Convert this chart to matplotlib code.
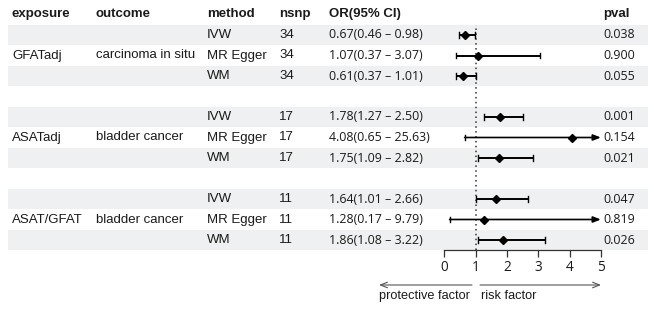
import matplotlib
matplotlib.use("Agg")
import matplotlib.pyplot as plt
import numpy as np

# ----------------------------- data -----------------------------
exposure = ["", "GFATadj", "", "", "", "ASATadj", "", "", "", "ASAT/GFAT", ""]
outcome = ["", "carcinoma in situ", "", "", "", "bladder cancer", "", "", "", "bladder cancer", ""]
method = ["IVW", "MR Egger", "WM", "", "IVW", "MR Egger", "WM", "", "IVW", "MR Egger", "WM"]
nsnp = ["34", "34", "34", "", "17", "17", "17", "", "11", "11", "11"]
or_est = [0.67, 1.07, 0.61, np.nan, 1.78, 4.08, 1.75, np.nan, 1.64, 1.28, 1.86]
or_low = [0.46, 0.37, 0.37, np.nan, 1.27, 0.65, 1.09, np.nan, 1.01, 0.17, 1.08]
or_high = [0.98, 3.07, 1.01, np.nan, 2.50, 25.63, 2.82, np.nan, 2.66, 9.79, 3.22]
pval = ["0.038", "0.900", "0.055", "", "0.001", "0.154", "0.021", "", "0.047", "0.819", "0.026"]
xticks = [0, 1, 2, 3, 4, 5]

# ----------------------------- layout -----------------------------
W, H = 654, 311
ROW0, ROWH = 35.0, 20.5          # pixel centre of first row, row height
XMIN, XMAX = 0, 5
PLOT_L, PLOT_R = 444.3, 600.8    # pixel span of the forest column
GREY = "#eff0f1"
TXT = "#1a1a1a"
TAB_FONT = "Liberation Sans"
NUM_FONT = "Open Sans"
FS = 9.5

n = len(method)


def row_of(py):
    return (py - ROW0) / ROWH


fig = plt.figure(figsize=(W / 100, H / 100), dpi=100)
ax = fig.add_axes([0, 0, 1, 1])
ax.set_xlim(0, W)
ax.set_ylim(row_of(H), row_of(0))
ax.axis("off")

# alternating row bands
for k in range(n):
    if k % 2 == 0:
        ax.axhspan(k - 0.5, k + 0.5, xmin=8 / W, xmax=648 / W, color=GREY, lw=0, zorder=0)

# header
hdr_y = row_of(14)
cols = [(12, "exposure"), (96, "outcome"), (207, "method"), (279, "nsnp"),
        (329, "OR(95% CI)"), (603, "pval")]
for x, lab in cols:
    ax.text(x, hdr_y, lab, ha="left", va="center", fontsize=FS,
            fontweight="bold", family=TAB_FONT, color=TXT)

for k in range(n):
    ax.text(12, k, exposure[k], ha="left", va="center", fontsize=FS, family=TAB_FONT, color=TXT)
    ax.text(96, k, outcome[k], ha="left", va="center", fontsize=FS, family=TAB_FONT, color=TXT)
    ax.text(207, k, method[k], ha="left", va="center", fontsize=FS, family=TAB_FONT, color=TXT)
    ax.text(279, k, nsnp[k], ha="left", va="center", fontsize=FS, family=TAB_FONT, color=TXT)
    if not np.isnan(or_est[k]):
        lab = f"{or_est[k]:.2f}({or_low[k]:.2f} \u2013 {or_high[k]:.2f})"
        ax.text(329, k, lab, ha="left", va="center", fontsize=FS - 0.6, family=NUM_FONT, color=TXT)
    ax.text(603, k, pval[k], ha="left", va="center", fontsize=FS - 0.6, family=NUM_FONT, color=TXT)

# ----------------------------- forest column -----------------------------
top_px = ROW0 - ROWH / 2
bot_px = ROW0 + (n - 0.5) * ROWH
fax = fig.add_axes([PLOT_L / W, 1 - bot_px / H, (PLOT_R - PLOT_L) / W, (bot_px - top_px) / H])
fax.set_xlim(XMIN, XMAX)
fax.set_ylim(n - 0.5, -0.5)
fax.patch.set_alpha(0)
for s in ("top", "left", "right"):
    fax.spines[s].set_visible(False)
fax.spines["bottom"].set_color("#333333")
fax.spines["bottom"].set_linewidth(0.9)
fax.set_yticks([])
fax.set_xticks(xticks)
fax.set_xticklabels([str(t) for t in xticks], family=NUM_FONT, fontsize=FS + 0.3, color=TXT)
fax.tick_params(axis="x", length=5, width=0.9, color="#333333", pad=2)

fax.axvline(1, color="#333333", lw=1.1, ls=(0, (1, 2.2)), zorder=1)

cap = 0.13
for k in range(n):
    if np.isnan(or_est[k]):
        continue
    lo, hi = or_low[k], or_high[k]
    if hi > XMAX:
        fax.annotate("", xy=(XMAX, k), xytext=(lo, k),
                     arrowprops=dict(arrowstyle="-|>,head_length=0.45,head_width=0.18",
                                     color="black", lw=1.2, shrinkA=0, shrinkB=0),
                     annotation_clip=False)
    else:
        fax.plot([lo, hi], [k, k], color="black", lw=1.4, solid_capstyle="butt", clip_on=False)
        fax.plot([hi, hi], [k - cap, k + cap], color="black", lw=1.0, clip_on=False)
    fax.plot([lo, lo], [k - cap, k + cap], color="black", lw=1.0, clip_on=False)
    fax.plot(or_est[k], k, marker="D", ms=4.3, color="black", clip_on=False, zorder=3)

# direction arrows under the axis
arr_y = row_of(285)
lab_y = row_of(296)
ax.annotate("", xy=(379, arr_y), xytext=(472, arr_y),
            arrowprops=dict(arrowstyle="->,head_length=0.5,head_width=0.2", color="#555555", lw=0.8,
                            shrinkA=0, shrinkB=0))
ax.annotate("", xy=(601, arr_y), xytext=(480, arr_y),
            arrowprops=dict(arrowstyle="->,head_length=0.5,head_width=0.2", color="#555555", lw=0.8,
                            shrinkA=0, shrinkB=0))
ax.text(379, lab_y, "protective factor", ha="left", va="center", fontsize=FS - 0.3,
        family=TAB_FONT, color=TXT)
ax.text(481, lab_y, "risk factor", ha="left", va="center", fontsize=FS - 0.3,
        family=TAB_FONT, color=TXT)

fig.savefig("out.png", dpi=100, facecolor="white")
